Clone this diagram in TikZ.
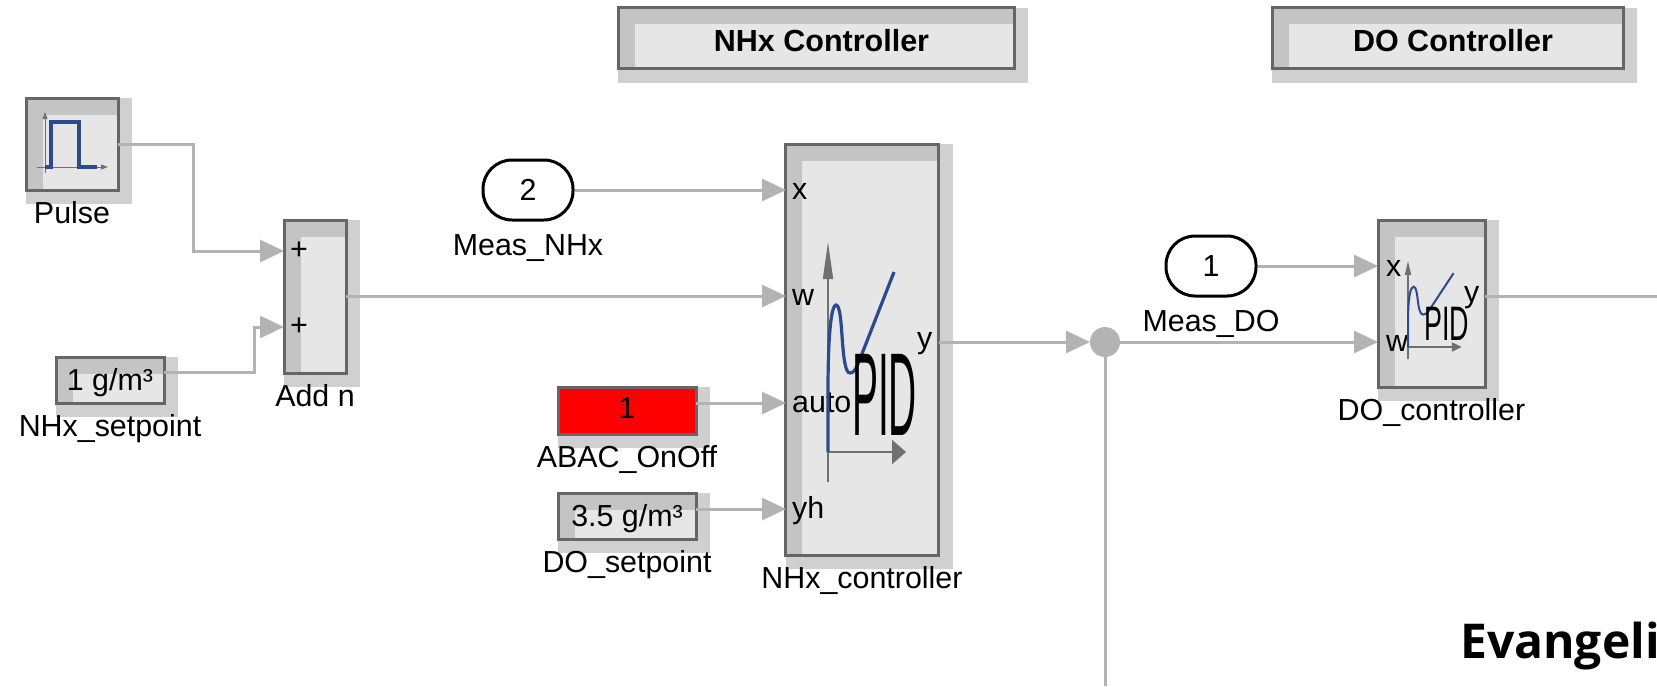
\documentclass[tikz,border=0pt]{standalone}
\usepackage{fontspec}
\setmainfont{Liberation Sans}
\newfontfamily\evfont{Open Sans}
\usepackage{tikz}
\usetikzlibrary{positioning,arrows.meta,backgrounds}
\definecolor{wiregray}{HTML}{B3B3B3}
\definecolor{bandgray}{HTML}{C4C4C4}
\definecolor{blockgray}{HTML}{E6E6E6}
\definecolor{shadowgray}{HTML}{D0D0D0}
\definecolor{edgegray}{HTML}{666666}
\definecolor{axisgray}{HTML}{707070}
\definecolor{curveblue}{HTML}{2B4A8F}
% #1 origin, #2 scale, #3 curve width, #4 and #5 the axis tips
\newcommand{\pidicon}[5]{
	\begin{scope}[shift={(#1)},#2]
		\draw[axisgray,line width=1.5pt,-{Triangle[#4]}] (0,30) -- (0,-210);
		\draw[axisgray,line width=2pt,-{Triangle[#5]}] (0,0) -- (78,0);
		\draw[curveblue,line width=#3] (0,0) -- (0,-60) .. controls (0,-125) and (4,-147) .. (8,-147)
			.. controls (16,-147) and (12,-79) .. (22,-79) .. controls (26,-79) and (28,-84) .. (30,-88) -- (66,-180);
		\node[transform shape,xscale=.33,inner sep=0pt,font=\fontsize{118}{118}\selectfont] at (56.5,-57.5) {PID};
	\end{scope}
}

\begin{document}
\begin{tikzpicture}[
	x=1pt,y=-1pt,
	node distance = 11.5pt,
	>={Triangle[length=24pt,width=22pt]},
	every node/.style = {font=\fontsize{30.4}{32}\selectfont},
	wire/.style = {draw=wiregray, line width=3pt},
	box/.style = {rectangle, draw=edgegray, line width=3pt, fill=#1, inner sep=0pt, outer sep=0pt},
	bandbox/.style = {box=blockgray, path picture={
		\fill[bandgray] (path picture bounding box.north west) rectangle ([yshift=-16.5pt]path picture bounding box.north east);
		\fill[bandgray] (path picture bounding box.north west) rectangle ([xshift=16.5pt]path picture bounding box.south west);
	}},
	headbox/.style = {bandbox, minimum height=61pt, text height=28pt, font=\fontsize{30.5}{32}\selectfont\bfseries,
		execute at begin node=\hspace*{11pt}},
	oval/.style = {rectangle, rounded corners=29pt, draw=black, line width=3pt, fill=white, minimum width=90pt, minimum height=60pt},
	tag/.style = {inner sep=0pt, outer sep=0pt, text height=22pt, text depth=7pt},
	port/.style = {inner sep=0pt, anchor=base west},
	]
	\useasboundingbox (0,0) rectangle (1657,686);
	
	\node (nhxhead) [headbox, minimum width=396pt] at (816,38) {NHx Controller};
	\node (dohead) [headbox, minimum width=351pt] at (1447.5,38) {DO Controller};
	\node (pulse) [bandbox, minimum width=92pt, minimum height=92pt] at (72,144) {};
	\node (addn) [bandbox, minimum width=62pt, minimum height=153pt] at (315,296.5) {};
	\node (nhxset) [bandbox, text depth=2pt, minimum width=108pt, minimum height=46pt] at (110,380) {1 g/m³};
	\node (meas2) [oval] at (528,190) {2};
	\node (abac) [box=red, text depth=4pt, minimum width=138pt, minimum height=47pt] at (627,410.5) {1};
	\node (doset) [bandbox, text depth=2pt, minimum width=138pt, minimum height=46pt] at (627,516) {3.5 g/m³};
	\node (nhx) [bandbox, minimum width=153pt, minimum height=411pt] at (862,349.5) {};
	\node (junc) [circle, fill=wiregray, minimum size=30pt, inner sep=0pt, outer sep=0pt] at (1105,342) {};
	\node (meas1) [oval] at (1211,266) {1};
	\node (do) [bandbox, minimum width=107pt, minimum height=167pt] at (1431.5,303.5) {};
	%
	\node (pulsetag) [tag,below=of pulse] {Pulse};
	\node (addtag) [tag,below=of addn] {Add n};
	\node (nhxsettag) [tag,below=of nhxset] {NHx\_setpoint};
	\node (meas2tag) [tag,below=12pt of meas2] {Meas\_NHx};
	\node (abactag) [tag,below=of abac] {ABAC\_OnOff};
	\node (dosettag) [tag,below=of doset] {DO\_setpoint};
	\node (nhxtag) [tag,below=of nhx] {NHx\_controller};
	\node (meas1tag) [tag,below=12pt of meas1] {Meas\_DO};
	\node (dotag) [tag,below=of do] {DO\_controller};
	%
	\node (plusa) at (299,251) {+};
	\node (plusb) at (299,327) {+};
	\node (nx) [port] at (792,199) {x};
	\node (nw) [port] at (792,305) {w};
	\node (nauto) [port] at (792,412) {auto};
	\node (nyh) [port] at (792,518) {yh};
	\node (ny) [port] at (917,348) {y};
	\node (dx) [port] at (1386,276) {x};
	\node (dw) [port] at (1386,351) {w};
	\node (dy) [port] at (1464,302) {y};
	\node (evan) [inner sep=0pt, anchor=base west, font=\fontsize{48}{50}\evfont\bfseries] at (1460,658) {Evangeli};
	%
	\coordinate (nhxin1) at (786,190);
	\coordinate (nhxin2) at (786,296);
	\coordinate (nhxin3) at (786,403);
	\coordinate (nhxin4) at (786,509);
	\coordinate (doin1) at (1378,266);
	\coordinate (doin2) at (1378,342);
	\coordinate (doout) at (1657,296);
	\coordinate (juncdown) at (1105,686);
	%
	\draw[wire,->] (pulse.east) -| (193,251) -- (plusa -| addn.west);
	\draw[wire,->] ([yshift=8pt]nhxset.east) -| (254,327) -- (plusb -| addn.west);
	\draw[wire,->] (meas2) -- (nhxin1);
	\draw[wire,->] (addn.east |- nhxin2) -- (nhxin2);
	\draw[wire,->] (abac.east |- nhxin3) -- (nhxin3);
	\draw[wire,->] (doset.east |- nhxin4) -- (nhxin4);
	\draw[wire,->] (nhx.east |- junc) -- (junc);
	\draw[wire,->] (junc) -- (doin2);
	\draw[wire] (junc) -- (juncdown);
	\draw[wire,->] (meas1) -- (doin1);
	\draw[wire] (do.east |- doout) -- (doout);
	%
	\draw[axisgray,line width=1pt,-{Triangle[length=7pt,width=5pt]}] (45,173) -- (45,112);
	\draw[axisgray,line width=1pt,-{Triangle[length=7pt,width=5pt]}] (37,167) -- (108,167);
	\draw[curveblue,line width=3.5pt] (45,167) -- (51,167) -- (51,122) -- (79,122) -- (79,167) -- (97,167);
	\pidicon{828,452}{xscale=1,yscale=1}{3.2pt}{length=37pt,width=10pt}{length=14pt,width=24pt}
	\pidicon{1408,347}{xscale=.69,yscale=.41}{2pt}{length=14pt,width=6pt}{length=10pt,width=9pt}
	%
	\begin{scope}[on background layer]
		\foreach \b in {nhxhead,dohead,pulse,addn,nhxset,abac,doset,nhx,do}
			\fill[shadowgray] (\b.north west) rectangle ([shift={(14pt,-14pt)}]\b.south east);
	\end{scope}
\end{tikzpicture}
\end{document}
